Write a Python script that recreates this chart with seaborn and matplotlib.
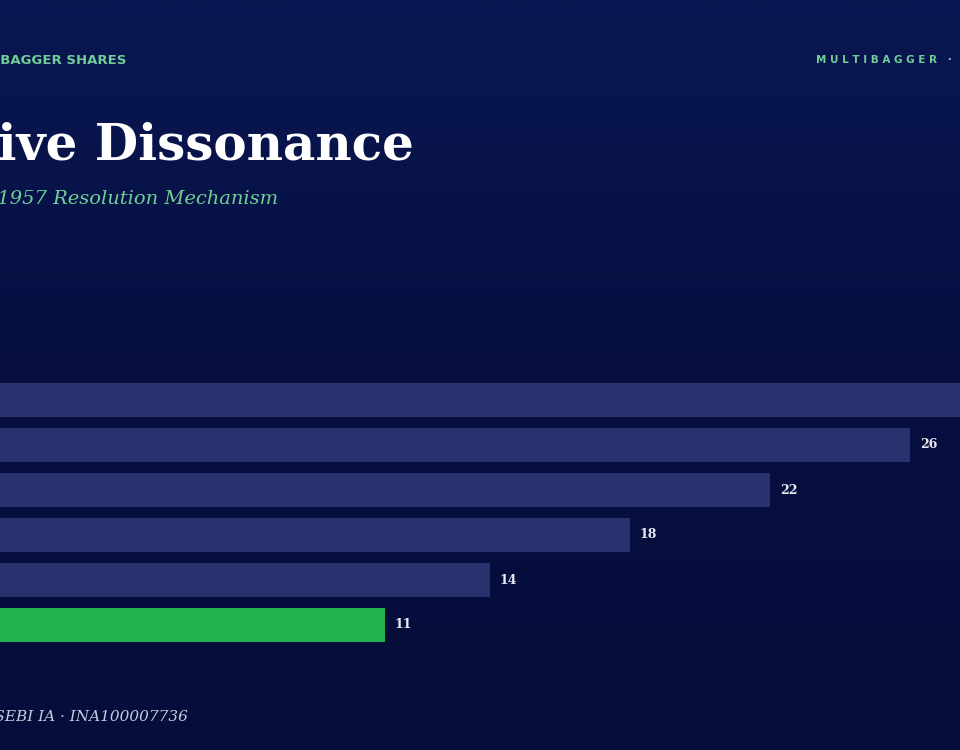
import matplotlib
matplotlib.use("Agg")
import matplotlib.pyplot as plt
import seaborn as sns
import numpy as np
import pandas as pd
from matplotlib.colors import LinearSegmentedColormap

categories = ["Stage 1", "Stage 2", "Stage 3", "Stage 4", "Stage 5", "Stage 6"]
values = [30, 26, 22, 18, 14, 11]
labels = ["30", "26", "22", "18", "14", "11"]
colors = ["#27316e", "#27316e", "#27316e", "#27316e", "#27316e", "#22b14c"]

sns.set_theme(style="white")
W, H = 960, 750
fig = plt.figure(figsize=(9.6, 7.5), dpi=100)

bg = fig.add_axes([0, 0, 1, 1], zorder=-10)
grad = np.linspace(0, 1, 256).reshape(-1, 1)
cmap = LinearSegmentedColormap.from_list("bg", ["#050d3a", "#060f40", "#0a1752"])
bg.imshow(grad, aspect="auto", cmap=cmap, extent=[0, 1, 0, 1], origin="lower")
bg.axis("off")

def fx(px): return px / W
def fy(py): return 1 - py / H

top = 400 - 22.5
bottom = 625 + 22.5
ax = fig.add_axes([0, fy(bottom), 1, (bottom - top) / H])
ax.set_facecolor("none")
df = pd.DataFrame({"cat": categories, "val": values})
sns.barplot(data=df, x="val", y="cat", hue="cat", palette=colors, legend=False,
            width=0.755, ax=ax, saturation=1, linewidth=0, edgecolor="none")
ax.set_xlim(0, W / 35.0)
ax.set_ylim(len(categories) - 0.5, -0.5)
ax.axis("off")
for i, (v, lab) in enumerate(zip(values, labels)):
    ax.text(v + 0.28, i, lab, va="center", ha="left", color="#e8e8f0",
            fontsize=9, fontweight="bold", family="DejaVu Serif")

fig.text(fx(126), fy(61), "MULTIBAGGER SHARES", ha="right", va="center",
         color="#6fcf97", fontsize=9.5, fontweight="bold", family="DejaVu Sans")
fig.text(fx(816), fy(60), "M U L T I B A G G E R   ·   D A T A", ha="left", va="center",
         color="#6fcf97", fontsize=7.5, fontweight="bold", family="DejaVu Sans")
fig.text(fx(414), fy(146), "Cognitive Dissonance", ha="right", va="center",
         color="white", fontsize=36, fontweight="bold", family="DejaVu Serif")
fig.text(fx(278), fy(199), "Festinger\u2019s 1957 Resolution Mechanism", ha="right", va="center",
         color="#6fcf97", fontsize=14, style="italic", family="DejaVu Serif")
fig.text(fx(188), fy(717), "Source: Multibagger Shares · SEBI IA · INA100007736", ha="right",
         va="center", color="#c8cbe0", fontsize=11, style="italic", family="DejaVu Serif")

fig.savefig("out.png", dpi=100)
